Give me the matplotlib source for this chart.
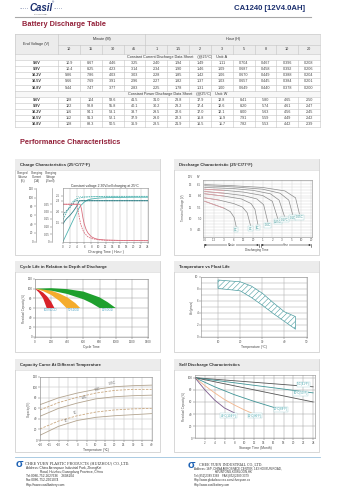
import matplotlib
matplotlib.use('Agg')
import matplotlib.pyplot as plt
import numpy as np
from matplotlib.patches import Rectangle

plt.rcParams['font.family'] = ['Liberation Sans', 'DejaVu Sans']
plt.rcParams['hatch.linewidth'] = 0.4

# ---------------- data ----------------
durations = ['10', '15', '30', '45', '1', '1.5', '2', '3', '5', '8', '10', '20']
end_volts = ['9.6V', '9.9V', '10.2V', '10.5V', '10.8V']
cc_amps = [
    [10.9, 8.67, 4.46, 3.25, 2.40, 1.94, 1.49, 1.11, 0.704, 0.467, 0.396, 0.208],
    [10.4, 8.25, 4.23, 3.14, 2.34, 1.90, 1.46, 1.09, 0.687, 0.458, 0.392, 0.206],
    [9.86, 7.86, 4.03, 3.03, 2.28, 1.85, 1.42, 1.06, 0.670, 0.449, 0.388, 0.204],
    [9.66, 7.69, 3.91, 2.96, 2.27, 1.82, 1.37, 1.03, 0.657, 0.445, 0.384, 0.201],
    [9.44, 7.47, 3.77, 2.83, 2.25, 1.78, 1.31, 1.00, 0.649, 0.440, 0.378, 0.200],
]
cp_watts = [
    [128, 104, 58.6, 41.5, 31.0, 23.8, 17.9, 12.8, 8.41, 5.80, 4.65, 2.50],
    [122, 98.8, 55.8, 40.1, 30.2, 23.2, 17.4, 12.6, 8.20, 5.74, 4.61, 2.47],
    [116, 94.1, 53.1, 38.7, 29.5, 22.6, 17.0, 12.1, 8.00, 5.63, 4.56, 2.45],
    [112, 91.3, 52.1, 37.9, 29.0, 22.3, 16.8, 11.9, 7.91, 5.59, 4.49, 2.42],
    [108, 88.3, 50.5, 36.9, 28.5, 21.9, 16.5, 11.7, 7.82, 5.53, 4.42, 2.39],
]

# charge characteristics (hours, values on the charged-volume scale)
chg_hours_vol100 = [0, 1, 2, 3, 4, 4.5, 5, 6, 7, 8, 10, 12, 16, 20, 24]
chg_vol100 = [0, 17, 34, 51, 68, 76, 82, 90, 95, 97, 99, 100, 100.5, 101, 101]
chg_hours_vol50 = [0, 1, 2, 3, 4, 5, 6, 8, 12, 24]
chg_vol50 = [50, 66, 82, 93, 98, 100, 101, 102, 103, 103]
chg_hours_v100 = [0, 0.5, 1, 2, 3, 4, 4.5, 5, 6, 24]
chg_v100 = [40, 47, 52, 60, 70, 82, 92, 93, 93, 93]
chg_hours_v50 = [0, 0.5, 1, 2, 3, 3.5, 4, 24]
chg_v50 = [60, 66, 70, 78, 88, 93, 93, 93]
chg_hours_i100 = [0, 4.8, 5.2, 5.6, 6, 6.5, 7, 8, 9, 10, 12, 16, 24]
chg_i100 = [85, 85, 75, 55, 40, 28, 20, 11, 7, 5, 3.5, 2.5, 2]
chg_hours_i50 = [0, 3.8, 4.2, 4.6, 5, 5.5, 6, 7, 8, 10, 12, 24]
chg_i50 = [85, 85, 73, 55, 40, 28, 20, 11, 7, 4, 3, 2]
vol_ticks = [0, 20, 40, 60, 80, 100, 120]
cur_pos = [0, 17.1, 33.8, 51.4, 68.3, 85]
cur_labels = ['0', '0.05', '0.10', '0.15', '0.20', '0.25']
volt_pos = [42.3, 67.4, 92.6, 104]
volt_labels = ['1.5', '2.0', '2.3', '2.5']

# discharge characteristics (x = tick index)
dis_xlabels = ['0.6', '1.2', '3', '6', '12', '20', '1', '2', '3', '5', '10', '20']
dis_rates = ['3C', '2C', '1C', '0.6C', '0.25C', '0.17C', '0.1C', '0.05C']
dis_x = [
    [0, 1, 2, 2.65, 3.05, 3.26],
    [0, 1.5, 3, 3.9, 4.4, 4.74],
    [0, 2, 3.8, 4.8, 5.2, 5.5],
    [0, 2, 4, 5.4, 6.1, 6.53],
    [0, 2, 4, 6, 7.0, 7.56],
    [0, 3, 5, 6.8, 7.7, 8.25],
    [0, 3, 6, 7.8, 8.7, 9.1],
    [0, 3, 6, 8.3, 9.4, 9.8],
]
dis_v = [
    [11.5, 11.2, 10.9, 10.6, 10.1, 9.3],
    [11.8, 11.6, 11.3, 11.0, 10.5, 9.4],
    [12.15, 11.95, 11.7, 11.3, 10.8, 9.5],
    [12.35, 12.2, 12.0, 11.7, 11.2, 9.7],
    [12.55, 12.45, 12.3, 12.0, 11.5, 10.0],
    [12.7, 12.6, 12.45, 12.15, 11.6, 10.2],
    [12.85, 12.75, 12.55, 12.2, 11.6, 10.35],
    [12.95, 12.85, 12.7, 12.4, 11.8, 10.4],
]

# cycle life
dod_labels = ['100%DOD', '50%DOD', '30%DOD']
dod_colors = ['#d8232a', '#f5ac2c', '#1fa02e']
cyc_up_x = [[0, 50, 100, 150, 200, 240], [0, 100, 200, 300, 400, 500, 560], [0, 200, 400, 600, 800, 900, 1000]]
cyc_up_y = [[100, 97, 92, 84, 73, 60], [100, 99, 96, 90, 82, 70, 60], [100, 101, 99, 94, 82, 72, 60]]
cyc_lo_x = [[0, 50, 100, 145], [0, 100, 200, 300, 390], [0, 200, 400, 600, 700, 800]]
cyc_lo_y = [[100, 92, 80, 60], [100, 95, 87, 75, 60], [100, 96, 89, 78, 70, 60]]

# temperature vs float life
fl_temp = [10, 15, 20, 25, 30, 35, 40, 45]
fl_upper = [9.5, 9.35, 9.2, 8.5, 7.3, 5.7, 4.2, 3.4]
fl_lower = [8.1, 7.9, 7.7, 6.6, 5.3, 3.9, 2.6, 1.3]

# capacity vs temperature
cap_temp = [-20, -10, 0, 10, 20, 30, 40]
cap_rates = ['0.05C', '0.1C', '0.2C', '1C', '2C']
cap_vals = [
    [67, 80, 89, 96, 101, 103, 104],
    [57, 71, 81, 89, 94, 96, 96],
    [45, 60, 70, 78, 82, 84, 85],
    [21, 36, 46, 53, 57, 59, 60],
    [9, 26, 37, 43, 46, 48, 50],
]
cap_label_x = [19, 11, 4, -1, -6]
cap_styles = ['-', '--', '-', '--', '-']

# self discharge
sd_labels = ['5°C(41°F)', '10°C(50°F)', '20°C(68°F)', '40°C(104°F)', '30°C(86°F)']
sd_months = [[0, 24], [0, 24], [0, 24], [0, 4, 8, 12, 16], [0, 2, 4, 6, 8, 10, 12], [0, 2, 4, 6, 8]]
sd_vals = [[100, 85], [100, 75], [100, 60], [100, 85, 72, 61, 51], [100, 87, 75, 64, 55, 47, 40], [100, 80, 63, 50, 42]]
sd_colors = ['#555555', '#3f9496', '#555555', '#3f9496', '#f2b48a', '#7b5a8c']
sd_label_pos = [(22, 89), (21.5, 74), (17.5, 48), (6.8, 37), (12.2, 37)]

# ---------------- figure ----------------
W, H = 338, 488
fig = plt.figure(figsize=(W / 100, H / 100), dpi=100)


def px_axes(l, t, r, b):
    return fig.add_axes([l / W, 1 - b / H, (r - l) / W, (b - t) / H])


bg = fig.add_axes([0, 0, 1, 1])
bg.set_xlim(0, W)
bg.set_ylim(H, 0)
bg.axis('off')

RED = '#93213a'
NAVY = '#1b2f6e'

# header
bg.text(41, 8, 'Casil', fontsize=7, fontweight='bold', style='italic', color=NAVY, ha='center', va='center')
bg.text(24, 9, '·····', fontsize=4, color=NAVY, ha='center', va='center')
bg.text(58, 9, '·····', fontsize=4, color=NAVY, ha='center', va='center')
bg.text(53, 2.5, '®', fontsize=2, color=NAVY, ha='center', va='center')
bg.text(41, 14, 'CASIL BATTERY', fontsize=1.3, color='#555', ha='center', va='center')
bg.text(305, 8, 'CA1240 [12V4.0AH]', fontsize=5.6, fontweight='bold', color=NAVY, ha='right', va='center')
bg.plot([15, 311], [17.3, 17.3], color='#a8a8a8', lw=0.8)
bg.text(22, 24.5, 'Battery Discharge Table', fontsize=5.3, fontweight='bold', color=RED, va='center')

# table
L, R, VC = 15, 320, 58
cw = (R - VC) / 12
top, h1, h2 = 34, 44.5, 54
rh = 6.1
bottom = h2 + 12 * rh
grid_c, lw_t, fs = '#c4c4c4', 0.4, 2.7


def fmt(v):
    if v >= 100:
        return '%.0f' % v
    if v >= 10:
        return '%.1f' % v
    if v >= 1:
        return '%.2f' % v
    return '%.3f' % v


bg.add_patch(Rectangle((L, top), R - L, h2 - top, fc='#ececec', ec='none'))
for k in (0, 6):
    bg.add_patch(Rectangle((L, h2 + k * rh), R - L, rh, fc='#f7f7f7', ec='none'))
bg.plot([L, R], [top, top], color=grid_c, lw=lw_t)
bg.plot([VC, R], [h1, h1], color=grid_c, lw=lw_t)
for i in range(13):
    y = h2 + i * rh
    bg.plot([L, R], [y, y], color=grid_c, lw=lw_t)
bg.plot([L, L], [top, bottom], color=grid_c, lw=lw_t)
bg.plot([R, R], [top, bottom], color=grid_c, lw=lw_t)
for j in range(12):
    x = VC + j * cw
    y0 = top if j in (0, 4) else h1
    bg.plot([x, x], [y0, h2], color=grid_c, lw=lw_t)
    for s in (0, 6):
        bg.plot([x, x], [h2 + (s + 1) * rh, h2 + (s + 6) * rh], color=grid_c, lw=lw_t)
bg.text((L + VC) / 2, (top + h2) / 2, 'End Voltage (V)', fontsize=fs, ha='center', va='center', color='#333')
bg.text(VC + 2 * cw, (top + h1) / 2, 'Minute (M)', fontsize=fs, ha='center', va='center', color='#333')
bg.text(VC + 8 * cw, (top + h1) / 2, 'Hour (H)', fontsize=fs, ha='center', va='center', color='#333')
for j, d in enumerate(durations):
    bg.text(VC + (j + 0.5) * cw, (h1 + h2) / 2, d, fontsize=fs, ha='center', va='center', color='#333')
bg.text((L + R) / 2 + 10, h2 + 0.5 * rh,
        'Constant Current Discharge Data Sheet    (@25°C)    Unit: A', fontsize=fs, ha='center', va='center', color='#333')
bg.text((L + R) / 2 + 10, h2 + 6.5 * rh,
        'Constant Power Discharge Data Sheet    (@25°C)    Unit: W', fontsize=fs, ha='center', va='center', color='#333')
for s, block in ((1, cc_amps), (7, cp_watts)):
    for i, row in enumerate(block):
        yc = h2 + (s + i + 0.5) * rh
        bg.text((L + VC) / 2, yc, end_volts[i], fontsize=fs, fontweight='bold', ha='center', va='center', color='#333')
        for j, v in enumerate(row):
            bg.text(VC + (j + 0.5) * cw, yc, fmt(v), fontsize=fs, ha='center', va='center', color='#444')

bg.text(20, 143, 'Performance Characteristics', fontsize=5.3, fontweight='bold', color=RED, va='center')


def panel(l, t, r, b, title):
    bg.add_patch(Rectangle((l, t), r - l, b - t, fc='white', ec='#c8c8c8', lw=0.5))
    bg.add_patch(Rectangle((l + 0.4, t + 0.4), r - l - 0.8, 11, fc='#ececec', ec='none'))
    bg.plot([l, r], [t + 11.4, t + 11.4], color='#d2d2d2', lw=0.4)
    bg.text(l + 5, t + 6, title, fontsize=3.1, fontweight='bold', color='#333', va='center')


def style(ax):
    for sp in ax.spines.values():
        sp.set_color('#8a8a8a')
        sp.set_linewidth(0.4)
    ax.tick_params(labelsize=2.2, length=1.2, width=0.3, pad=0.8, colors='#555')
    ax.set_axisbelow(True)


panel(15, 159, 160, 255, 'Charge Characteristics (25°C/77°F)')
panel(174, 159, 319, 255, 'Discharge Characteristic (25°C/77°F)')
panel(15, 261, 160, 352, 'Cycle Life in Relation to Depth of Discharge')
panel(174, 261, 319, 352, 'Temperature vs Float Life')
panel(15, 359, 160, 452, 'Capacity Curve At Different Temperature')
panel(174, 359, 319, 452, 'Self Discharge Characteristics')

# ---- charge characteristics ----
ax1 = px_axes(63, 188, 148, 242)
style(ax1)
ax1.set_xlim(0, 24)
ax1.set_ylim(-1, 122)
ax1.set_xticks(range(0, 25, 2))
ax1.grid(axis='x', color='#bbbbbb', lw=0.35)
ax1.set_yticks(volt_pos, volt_labels)
ax1.plot(chg_hours_vol100, chg_vol100, color='#4fb3b0', lw=0.6)
ax1.plot(chg_hours_vol50, chg_vol50, color='#4fb3b0', lw=0.6, ls='--', dashes=(2, 1))
ax1.plot(chg_hours_v100, chg_v100, color='#2f7f86', lw=0.6)
ax1.plot(chg_hours_v50, chg_v50, color='#2f7f86', lw=0.6, ls='--', dashes=(2, 1))
ax1.plot(chg_hours_i100, chg_i100, color='#d9707f', lw=0.6)
ax1.plot(chg_hours_i50, chg_i50, color='#d9707f', lw=0.6, ls='--', dashes=(2, 1))
ax1.axhline(104, xmin=0.15, color='#4fb3b0', lw=0.5, ls=':')
ax1.set_xlabel('Charging Time ( Hour )', fontsize=2.5, labelpad=1, color='#444')
for loc, pos, lab in ((-0.129, cur_pos, cur_labels), (-0.318, vol_ticks, [str(v) for v in vol_ticks])):
    sec = ax1.secondary_yaxis(loc)
    sec.set_ticks(pos, labels=lab)
    sec.tick_params(labelsize=2.2, length=1.2, width=0.3, pad=0.8, colors='#555')
    sec.spines['left'].set_color('#8a8a8a')
    sec.spines['left'].set_linewidth(0.4)
bg.text(105, 186.5, 'Constant voltage 2.30V/cell charging at 25°C', fontsize=2.4, ha='center', va='center', color='#333')
for xc, txt in ((23, 'Charged\nVolume\n(%)'), (37, 'Charging\nCurrent\n(CA)'), (51, 'Charging\nVoltage\n(V/cell)')):
    bg.text(xc, 177, txt, fontsize=2.2, ha='center', va='center', color='#444', linespacing=1.0)
bg.plot([111, 118], [211, 211], color='#777', lw=0.5, ls='--', dashes=(1.5, 1))
bg.text(119, 211, 'After 50% DOD', fontsize=2.2, va='center', color='#444')
bg.plot([111, 118], [217, 217], color='#777', lw=0.5)
bg.text(119, 217, 'After 100% DOD', fontsize=2.2, va='center', color='#444')
bg.text(110, 205, 'Capacity', fontsize=2.2, va='center', color='#2f8f8f')
bg.text(110, 235, 'I = A', fontsize=2.2, va='center', color='#444')

# ---- discharge characteristics ----
ax2 = px_axes(203, 180, 311.5, 237)
style(ax2)
ax2.set_xlim(-0.17, 11.05)
ax2.set_ylim(8.39, 13.35)
ax2.set_xticks(range(len(dis_xlabels)), dis_xlabels)
ax2.set_yticks([9, 10, 11, 12, 13])
ax2.set_yticks(np.arange(8.5, 13.4, 0.25), minor=True)
ax2.tick_params(axis='y', which='both', pad=8, length=0)
ax2.tick_params(axis='x', length=0, pad=0.6)
ax2.grid(which='both', color='#cfcfcf', lw=0.3)
for xs, vs, lab in zip(dis_x, dis_v, dis_rates):
    ax2.plot(xs, vs, color='#8c8c8c', lw=0.5)
    n = sum(1 for x in xs if x <= 2)
    ax2.plot(xs[:n], vs[:n], color='#e8a0a8', lw=0.5)
    ax2.text(xs[-1], vs[-1] - 0.12, lab, fontsize=2.1, color='#2f8f8f', ha='center', va='top',
             bbox=dict(boxstyle='square,pad=0.15', fc='white', ec='#9fcfd0', lw=0.3))
sec2 = ax2.secondary_yaxis('left', functions=(lambda v: v / 2, lambda v: v * 2))
sec2.set_ticks([4.5, 5, 5.5, 6, 6.5], labels=['4.5', '5.0', '5.5', '6.0', '6.5'])
sec2.tick_params(labelsize=2.2, length=0, pad=1, colors='#555')
sec2.spines['left'].set_visible(False)
bg.text(190, 177.5, '12V', fontsize=2.1, ha='center', va='center', color='#555')
bg.text(198.5, 177.5, '6V', fontsize=2.1, ha='center', va='center', color='#555')
bg.text(183, 208, 'Terminal Voltage (V)', fontsize=2.1, rotation=90, ha='center', va='center', color='#555')
for x0, x1, lab in ((204, 259, 'Minute'), (261, 311, 'Hour')):
    bg.annotate('', xy=(x0, 245), xytext=(x1, 245),
                arrowprops=dict(arrowstyle='<|-|>', lw=0.4, color='#333', mutation_scale=2.5, shrinkA=0, shrinkB=0))
    bg.plot([x0, x0], [243.5, 246.5], color='#333', lw=0.4)
    bg.plot([x1, x1], [243.5, 246.5], color='#333', lw=0.4)
    bg.text((x0 + x1) / 2, 245, lab, fontsize=1.9, ha='center', va='center', color='#444',
            bbox=dict(boxstyle='square,pad=0.05', fc='white', ec='none'))
bg.text(257, 249.5, 'Discharging Time', fontsize=2.2, ha='center', va='center', color='#444')

# ---- cycle life ----
ax3 = px_axes(35, 279, 148, 337)
style(ax3)
ax3.set_xlim(0, 1400)
ax3.set_ylim(0, 120)
ax3.set_xticks(range(0, 1401, 200))
ax3.set_yticks(range(0, 121, 20))
ax3.grid(color='#9a9a9a', lw=0.35)
for ux, uy, lx, ly, col, lab in zip(cyc_up_x, cyc_up_y, cyc_lo_x, cyc_lo_y, dod_colors, dod_labels):
    ax3.fill(ux + lx[::-1], uy + ly[::-1], color=col, lw=0)
    ax3.text((ux[-1] + lx[-1]) / 2, 55, lab, fontsize=2.0, color='#4a9fc0', ha='center', va='center')
ax3.set_ylabel('Residual Capacity(%)', fontsize=2.2, labelpad=1, color='#555')
ax3.set_xlabel('Cycle Time', fontsize=2.4, labelpad=0.8, color='#444')

# ---- temperature vs float life ----
ax4 = px_axes(201, 277, 307, 337)
style(ax4)
ax4.set_xlim(2.3, 50.2)
ax4.set_ylim(0, 10)
ax4.set_xticks([10, 20, 30, 40, 50])
ax4.set_yticks([0, 2, 4, 6, 8, 10])
ax4.set_yticks(range(0, 11), minor=True)
ax4.tick_params(which='minor', length=0)
ax4.grid(which='both', axis='y', color='#a8a8a8', lw=0.35)
ax4.grid(which='major', axis='x', color='#a8a8a8', lw=0.35)
ax4.fill_between(fl_temp, fl_lower, fl_upper, facecolor='white', edgecolor='#4f9ea2', hatch='//////', lw=0.5)
ax4.set_ylabel('Life(years)', fontsize=2.2, labelpad=1, color='#555')
ax4.set_xlabel('Temperature (°C)', fontsize=2.4, labelpad=0.8, color='#444')

# ---- capacity vs temperature ----
ax5 = px_axes(40, 376.7, 151.7, 440)
style(ax5)
ax5.set_xlim(-20, 40)
ax5.set_ylim(0, 120)
ax5.set_xticks(range(-20, 41, 5))
ax5.set_yticks(range(0, 121, 20))
ax5.grid(color='#bdbdbd', lw=0.35)
for vals, lab, ls, lx in zip(cap_vals, cap_rates, cap_styles, cap_label_x):
    ax5.plot(cap_temp, vals, color='#c9a77f' if ls == '--' else '#b3a48f', lw=0.6, ls=ls, dashes=(3, 1.5) if ls == '--' else (None, None))
    ax5.text(lx, np.interp(lx, cap_temp, vals) + 2, lab, fontsize=2.0, color='#555', ha='center', va='bottom', rotation=12)
ax5.set_ylabel('Capacity(%)', fontsize=2.2, labelpad=1, color='#555')
ax5.set_xlabel('Temperature (℃)', fontsize=2.4, labelpad=0.8, color='#444')

# ---- self discharge ----
ax6 = px_axes(195, 374.7, 315.3, 438.3)
style(ax6)
ax6.set_xlim(0, 24.45)
ax6.set_ylim(0, 105)
ax6.set_xticks(range(2, 25, 2))
ax6.set_yticks(range(0, 101, 20))
ax6.grid(color='#a0a0a0', lw=0.35)
for m, v, c in zip(sd_months, sd_vals, sd_colors):
    ax6.plot(m, v, color=c, lw=0.6)
for (lx, ly), lab in zip(sd_label_pos, sd_labels):
    ax6.text(lx, ly, lab, fontsize=2.0, color='#3aa0a8', ha='center', va='center',
             bbox=dict(boxstyle='square,pad=0.15', fc='white', ec='#a8d3d6', lw=0.3))
ax6.set_ylabel('Residual Capacity(%)', fontsize=2.2, labelpad=1, color='#555')
ax6.set_xlabel('Storage Time (Month)', fontsize=2.4, labelpad=0.8, color='#444')

# ---------------- footer ----------------
bg.plot([15, 320], [456.7, 456.7], color='#9cc3de', lw=0.6)
BLUE = '#1f63b5'
bg.text(19, 464, 'σ', fontsize=8, fontweight='bold', color=BLUE, ha='center', va='center')
bg.text(191, 465.5, 'σ', fontsize=8, fontweight='bold', color=BLUE, ha='center', va='center')
left_lines = [
    (25, 463.3, 'CHEE YUEN PLASTIC PRODUCTS (HUIZHOU) CO.,LTD.', 2.6, 'DejaVu Serif'),
    (26, 467.5, 'Address: China Aerospace Industrial Park, ZhongKai', 2.3, None),
    (40, 471.7, 'Road, Huizhou,Guangdong Province, China', 2.3, None),
    (26, 476, 'Tel:0086-752-2627636    2608104', 2.3, None),
    (26, 480.3, 'Fax:0086-752-2601074', 2.3, None),
    (26, 484.7, 'Http://www.casilbattery.com', 2.3, None),
]
right_lines = [
    (199, 464.3, 'CHEE YUEN INDUSTRIAL CO.,LTD.', 2.4, 'DejaVu Serif'),
    (194, 468.3, 'Address: 16/F, CHINA AEROSPACE CENTER, 143 HOI BUN ROAD,', 2.1, None),
    (215, 471.9, 'KWUNTONG,KOWLOON,HK', 2.1, None),
    (194, 476, 'Tel:(852)2389 3368    FAX:(852)2389 3379', 2.1, None),
    (194, 480.3, 'Http://www.globalsources.com/cheeyuen.co', 2.1, None),
    (194, 484.7, 'Http://www.casilbattery.com', 2.1, None),
]
for x, y, txt, size, fam in left_lines + right_lines:
    kw = {'family': fam} if fam else {}
    bg.text(x, y, txt, fontsize=size, color='#333', va='center', **kw)

fig.savefig('out.png', dpi=100)
